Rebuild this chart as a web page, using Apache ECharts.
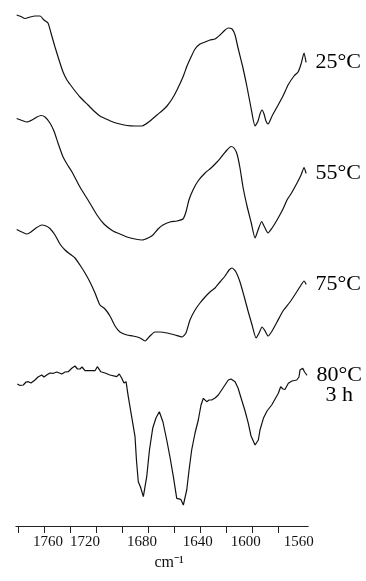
<!DOCTYPE html>
<html>
<head>
<meta charset="utf-8">
<script src="https://cdn.jsdelivr.net/npm/echarts@6/dist/echarts.min.js"></script>
<style>html,body{margin:0;padding:0;background:#fff}#c{width:366px;height:581px}</style>
</head>
<body>
<div id="c"></div>
<script>
// IR spectra (amide I region), stacked traces, arbitrary transmittance units incl. offset
const seriesNames = ['25°C', '55°C', '75°C', '80°C\n3 h'];
const tickValues = [1780, 1760, 1740, 1720, 1700, 1680, 1660, 1640, 1620, 1600, 1580];
const labelValues = [1760, 1720, 1680, 1640, 1600, 1560];

const wn25 = [1781.4,1778.1,1775.0,1771.1,1767.3,1763.4,1760.4,1757.3,1755.0,1751.9,1748.8,1745.7,1742.7,1738.8,1732.7,1726.5,1721.9,1717.3,1712.6,1707.3,1701.9,1696.5,1690.3,1684.9,1678.8,1673.4,1668.8,1665.7,1661.8,1658.0,1653.4,1650.3,1647.2,1644.1,1640.3,1636.4,1632.6,1628.7,1624.9,1621.8,1618.7,1615.6,1613.3,1611.0,1607.2,1604.1,1601.0,1597.9,1595.6,1594.1,1592.5,1591.0,1589.5,1587.9,1584.8,1581.0,1576.4,1572.5,1567.9,1564.8,1562.5,1560.2,1558.7];
const t25 = [511,509.5,507.5,509,510,510,506,503,493,479,466,454,446,439,429,421,415,410,407,404,402,400.5,400,400,405,411,416,420,427,436,449,460,469,477,482,484,486,487,491,495,498,497,491,478,458,439,418,400,405,412,416,412,405,402,410,419,430,441,450,454,462,473,464];

const wn55 = [1781.4,1777.3,1773.5,1769.6,1765.8,1762.7,1759.6,1755.8,1752.7,1749.6,1745.7,1742.7,1738.8,1732.7,1726.5,1719.6,1714.2,1707.3,1701.9,1696.5,1690.3,1684.9,1680.3,1676.5,1672.6,1668.8,1663.4,1658.0,1653.4,1651.1,1648.8,1645.7,1641.8,1636.4,1631.8,1627.2,1623.3,1619.5,1616.4,1614.1,1611.8,1609.5,1607.2,1604.1,1601.0,1597.9,1595.6,1592.8,1591.0,1587.9,1584.8,1581.0,1576.4,1573.3,1569.4,1565.6,1562.5,1560.2,1558.7];
const t55 = [407.5,405.5,404,406,409,410.5,409,403,395,383,369,362,354,339,326,311,302,295,292,289,287,286,288,291,297,301,304,305,307,314,326,336,345,353,358,364,370,376,379.5,378,372,358,339,320,304,288,296,304.5,300,293,298,306,317,326,334,343,351,358.5,353];

const wn75 = [1781.4,1777.3,1773.5,1770.4,1766.5,1762.1,1758.8,1755.8,1751.9,1748.1,1744.2,1740.4,1736.5,1732.7,1728.8,1725.0,1721.1,1717.3,1713.4,1709.6,1705.7,1701.9,1696.5,1691.9,1686.4,1682.6,1678.8,1675.0,1671.1,1665.7,1659.5,1654.1,1651.1,1648.0,1644.1,1640.3,1636.4,1632.6,1628.7,1624.9,1621.0,1617.9,1615.6,1612.6,1609.5,1606.4,1603.3,1600.2,1597.1,1594.8,1592.5,1590.2,1587.9,1584.8,1581.0,1576.4,1571.0,1566.4,1562.5,1560.2,1558.7];
const t75 = [296.5,294,292,294,298,301,300,297.5,291,282,276,272,268,261,253,244,233,221,217,210,200,194,191,190,188,185,190,194,194,193,191,189,193,206,216,223,229,234,238,244,250,256,258,254,244,230,215,201,188,193,199,195,190,195,204,215,224,233,241,245,242];

const wn80 = [1780.9,1778.8,1776.3,1774.2,1772.5,1770.4,1767.3,1765.0,1762.1,1760.4,1758.3,1755.8,1753.2,1750.4,1746.7,1744.2,1741.7,1739.0,1736.5,1734.6,1732.7,1731.1,1728.8,1725.0,1721.1,1719.3,1716.7,1713.4,1709.6,1704.4,1702.4,1700.6,1698.8,1697.2,1695.5,1692.9,1690.3,1689.2,1687.8,1686.1,1683.9,1681.3,1679.2,1676.7,1674.2,1671.6,1668.8,1665.9,1663.4,1660.8,1658.2,1655.1,1653.1,1650.5,1648.7,1646.7,1644.1,1641.6,1639.5,1637.7,1635.1,1633.3,1631.3,1628.7,1626.2,1622.6,1618.5,1616.4,1613.3,1611.0,1608.2,1605.6,1603.1,1601.0,1597.9,1595.4,1594.1,1591.5,1588.7,1585.1,1582.5,1580.0,1578.2,1576.4,1574.8,1572.3,1569.5,1565.8,1564.1,1563.3,1561.2,1559.8,1558.1];
const t80 = [142,140.5,141,144,144.3,143,146,149,151,149,151,153,152.7,154,152,154,154.3,157.7,160,157,157,159,155.3,155.5,155.3,159.3,154.3,153,151,149.3,152,148,143,144.3,129.3,109.3,89.3,66,44.3,39,29.3,49.3,76,97.7,108,114.3,104,86,69,49.3,27.7,26.7,21,36,56,76,93,106,121,127.7,124.3,126,126,128,131,138,146,147,144.3,138,126,115,102.7,90,81,86,96,107.7,115,121,127,132.7,139.3,137,136.7,142.7,145,146,149,156,157.7,154,151];

const traces = [[wn25, t25], [wn55, t55], [wn75, t75], [wn80, t80]];
const serif = 'Liberation Serif, Times New Roman, serif';

// small horizontal nudges of the printed tick labels (px; negative = left)
const labelNudge = {1760: 3.5, 1720: -11.5, 1680: -6.5, 1640: -2.5, 1600: -6.5, 1560: -5.5};
const labelRich = {};
labelValues.forEach(v => {
  const d = labelNudge[v] || 0;
  labelRich['k' + v] = {
    fontFamily: serif, fontSize: 15, color: '#111',
    padding: d < 0 ? [0, -2 * d, 0, 0] : [0, 0, 0, 2 * d]
  };
});

const lineSeries = traces.map((tr, k) => ({
  type: 'line',
  name: seriesNames[k],
  data: tr[0].map((w, i) => [w, tr[1][i]]),
  showSymbol: false,
  smooth: k === 3 ? false : 0.2,
  lineStyle: {color: '#111', width: 1.2},
  z: 2
}));

// trace labels anchored at the last point of each trace
const labelSeries = traces.map((tr, k) => {
  const n = tr[0].length - 1;
  const name = seriesNames[k];
  const multi = name.indexOf('\n') >= 0;
  return {
    type: 'scatter',
    data: [[tr[0][n], tr[1][n]]],
    symbol: 'circle', symbolSize: 1,
    itemStyle: {color: '#111', opacity: 1},
    silent: true, z: 3,
    emphasis: {disabled: true},
    label: multi ? {
      show: true, position: 'right', distance: 9, offset: [0, 10],
      formatter: name.split('\n').map(s => '{a|' + s + '}').join('\n'),
      rich: {a: {fontFamily: serif, fontSize: 22, color: '#000', width: 46, align: 'center', lineHeight: 20}}
    } : {
      show: true, position: 'right', distance: 9, formatter: name,
      fontFamily: serif, fontSize: 22, color: '#000'
    }
  };
});

const chart = echarts.init(document.getElementById('c'), null, {renderer: 'canvas'});
chart.setOption({
  animation: false,
  backgroundColor: '#fff',
  grid: {left: 15.9, right: 57.8, top: 0, bottom: 55},
  xAxis: {
    type: 'value', inverse: true, min: 1557, max: 1782,
    axisLine: {show: true, lineStyle: {color: '#222', width: 1}},
    axisTick: {show: true, length: 7, lineStyle: {color: '#222'}, customValues: tickValues},
    axisLabel: {
      show: true, customValues: labelValues, margin: 9,
      fontFamily: serif, fontSize: 15, color: '#111',
      formatter: v => '{k' + v + '|' + v + '}',
      rich: labelRich
    },
    splitLine: {show: false},
    name: 'cm⁻¹', nameLocation: 'middle', nameGap: 16,
    nameTextStyle: {fontFamily: serif, fontSize: 16, color: '#111', padding: [0, 0, 0, 14]}
  },
  yAxis: {type: 'value', min: 0, max: 526, show: false},
  series: lineSeries.concat(labelSeries)
});
</script>
</body>
</html>
